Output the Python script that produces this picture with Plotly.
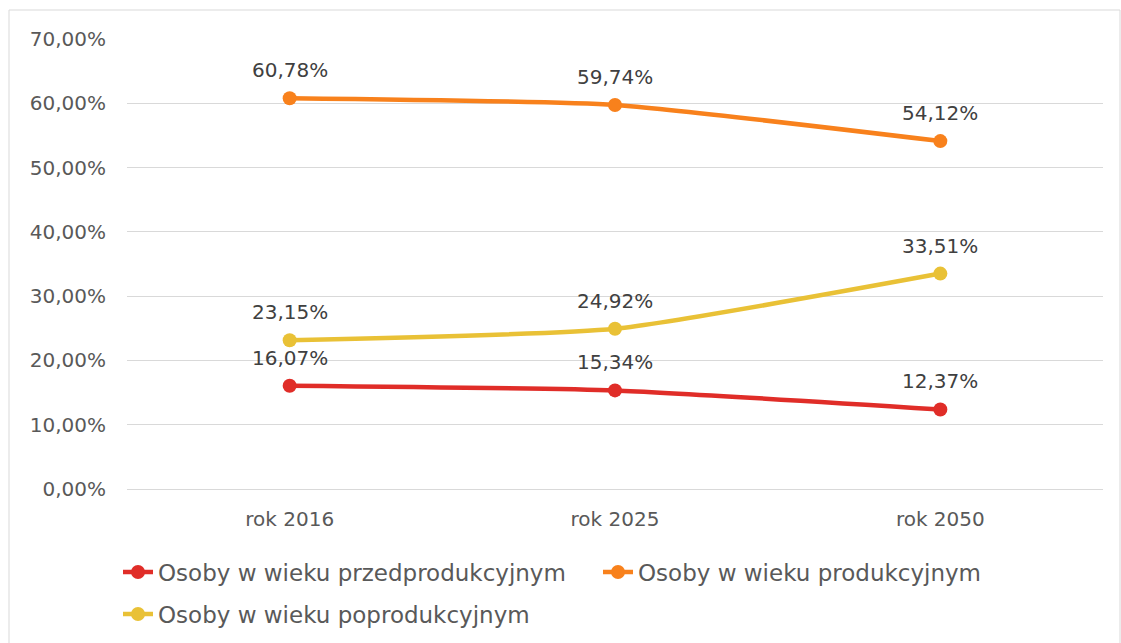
import plotly.graph_objects as go

categories = ["rok 2016", "rok 2025", "rok 2050"]
przed = [16.07, 15.34, 12.37]
prod = [60.78, 59.74, 54.12]
poprod = [23.15, 24.92, 33.51]
series_names = ["Osoby w wieku przedprodukcyjnym", "Osoby w wieku produkcyjnym", "Osoby w wieku poprodukcyjnym"]
colors = ["#E02D28", "#F8811C", "#E9C136"]
y_ticks = [0, 10, 20, 30, 40, 50, 60, 70]

def pl(v):
    return f"{v:.2f}".replace(".", ",") + "%"

FONT = "DejaVu Sans"
fig = go.Figure()
annotations = []
for vals, name, col, leg in [(przed, series_names[0], colors[0], "legend"),
                             (prod, series_names[1], colors[1], "legend"),
                             (poprod, series_names[2], colors[2], "legend2")]:
    fig.add_trace(go.Scatter(
        x=categories, y=vals, name=name, mode="lines+markers",
        line=dict(color=col, width=4.5, shape="spline", smoothing=0.5),
        marker=dict(color=col, size=14),
        legend=leg,
    ))
    for c, v in zip(categories, vals):
        annotations.append(dict(x=c, y=v, xref="x", yref="y", text=pl(v), showarrow=False,
                                yshift=28, font=dict(family=FONT, size=20, color="#404040")))

L, R, T, B = 127, 18, 39, 154
W, H = 1121, 643
pw, ph = W - L - R, H - T - B

def px_x(x):
    return (x - L) / pw

def px_y(y):
    return (H - B - y) / ph

fig.update_layout(
    width=W, height=H,
    margin=dict(l=L, r=R, t=T, b=B, autoexpand=False),
    paper_bgcolor="white", plot_bgcolor="white",
    font=dict(family=FONT, color="#595959", size=20),
    xaxis=dict(range=[-0.5, 2.5], showgrid=False, showline=True, linecolor="#D9D9D9",
               linewidth=1, zeroline=False,
               ticks="", ticklabelstandoff=12, tickfont=dict(size=20, color="#595959")),
    yaxis=dict(range=[0, 70], tickvals=y_ticks, ticktext=[pl(v) for v in y_ticks],
               showgrid=True, gridcolor="#D9D9D9", gridwidth=1, zeroline=False,
               showline=False, ticks="", ticklabelstandoff=20,
               tickfont=dict(size=20, color="#595959")),
    legend=dict(orientation="h", x=(118) / W, y=1 - 572 / H, xref="container", yref="container",
                xanchor="left", yanchor="middle",
                font=dict(family=FONT, size=23, color="#595959"), entrywidth=435,
                bgcolor="rgba(0,0,0,0)"),
    legend2=dict(orientation="h", x=(118) / W, y=1 - 614 / H, xref="container", yref="container",
                 xanchor="left", yanchor="middle",
                 font=dict(family=FONT, size=23, color="#595959"),
                 bgcolor="rgba(0,0,0,0)"),
    showlegend=True,
    annotations=annotations,
    shapes=[dict(type="rect", xref="paper", yref="paper",
                 x0=px_x(9), x1=px_x(1120), y0=px_y(660), y1=px_y(10),
                 line=dict(color="#D9D9D9", width=1), fillcolor="rgba(0,0,0,0)", layer="below")],
)

fig.write_html("out.html", config={"displayModeBar": False},
               post_script="document.body.style.margin='0';")
